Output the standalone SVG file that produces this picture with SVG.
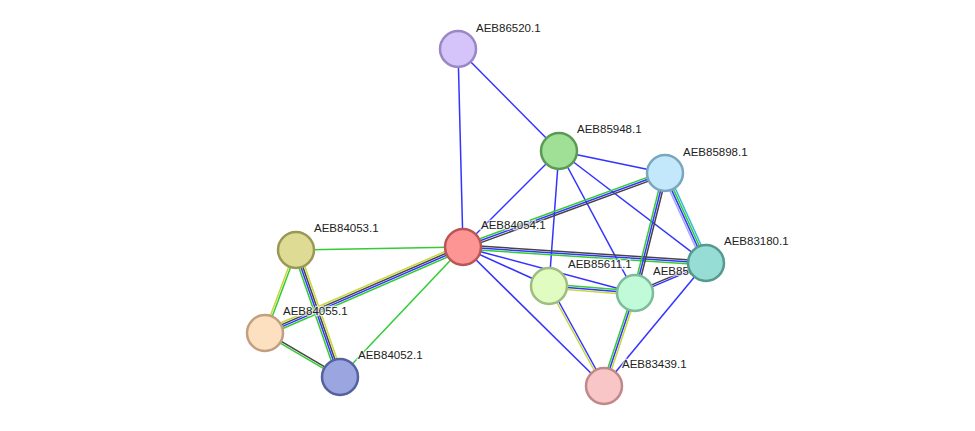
<svg xmlns="http://www.w3.org/2000/svg" width="975" height="431" viewBox="0 0 975 431">
<style>
line{stroke-width:1.5}
.b{stroke:#3333ff}.g{stroke:#33cc33}.k{stroke:#444}.y{stroke:#c8d83a}.l{stroke:#a0a8ff}.c{stroke:#33bbdd}
circle{stroke-width:2.5}
text{font-family:"Liberation Sans",Arial,sans-serif;font-size:11.5px;fill:#222;stroke:#fff;stroke-width:2.5px;paint-order:stroke;stroke-opacity:0.7}
</style>
<rect width="975" height="431" fill="#fff"/>
<g id="connectors">
<line class="b" x1="458" y1="49" x2="463" y2="247"/>
<line class="b" x1="458" y1="49" x2="559" y2="151"/>
<line class="b" x1="559" y1="151" x2="463" y2="247"/>
<line class="b" x1="559" y1="151" x2="665" y2="173"/>
<line class="b" x1="559" y1="151" x2="706" y2="263"/>
<line class="b" x1="559" y1="151" x2="549" y2="286"/>
<line class="b" x1="559" y1="151" x2="635" y2="293"/>
<line class="g" x1="462.3" y1="245.1" x2="664.3" y2="171.1"/>
<line class="b" x1="463" y1="247" x2="665" y2="173"/>
<line class="k" x1="463.7" y1="248.9" x2="665.7" y2="174.9"/>
<line class="k" x1="463.1" y1="245" x2="706.1" y2="261"/>
<line class="b" x1="463" y1="247" x2="706" y2="263"/>
<line class="g" x1="462.9" y1="249" x2="705.9" y2="265"/>
<line class="b" x1="463" y1="247" x2="549" y2="286"/>
<line class="b" x1="463" y1="247" x2="635" y2="293"/>
<line class="b" x1="463" y1="247" x2="604" y2="386"/>
<line class="g" x1="463" y1="247" x2="296" y2="250"/>
<line class="y" x1="461.8" y1="244.3" x2="263.8" y2="330.3"/>
<line class="k" x1="462.6" y1="246.1" x2="264.6" y2="332.1"/>
<line class="b" x1="463.4" y1="247.9" x2="265.4" y2="333.9"/>
<line class="g" x1="464.2" y1="249.8" x2="266.2" y2="335.8"/>
<line class="g" x1="463" y1="247" x2="340" y2="377"/>
<line class="g" x1="663.1" y1="172.5" x2="633.1" y2="292.5"/>
<line class="b" x1="665" y1="173" x2="635" y2="293"/>
<line class="k" x1="666.9" y1="173.5" x2="636.9" y2="293.5"/>
<line class="l" x1="662.3" y1="174.2" x2="703.3" y2="264.2"/>
<line class="b" x1="664.1" y1="173.4" x2="705.1" y2="263.4"/>
<line class="g" x1="665.9" y1="172.6" x2="706.9" y2="262.6"/>
<line class="c" x1="667.7" y1="171.8" x2="708.7" y2="261.8"/>
<line class="g" x1="549.2" y1="284" x2="635.2" y2="291"/>
<line class="b" x1="549" y1="286" x2="635" y2="293"/>
<line class="y" x1="548.8" y1="288" x2="634.8" y2="295"/>
<line class="k" x1="634.6" y1="292.1" x2="705.6" y2="262.1"/>
<line class="b" x1="635.4" y1="293.9" x2="706.4" y2="263.9"/>
<line class="y" x1="548.1" y1="286.5" x2="603.1" y2="386.5"/>
<line class="b" x1="549.9" y1="285.5" x2="604.9" y2="385.5"/>
<line class="g" x1="633.1" y1="292.4" x2="602.1" y2="385.4"/>
<line class="b" x1="635" y1="293" x2="604" y2="386"/>
<line class="y" x1="636.9" y1="293.6" x2="605.9" y2="386.6"/>
<line class="b" x1="706" y1="263" x2="604" y2="386"/>
<line class="y" x1="295.1" y1="249.6" x2="264.1" y2="332.6"/>
<line class="g" x1="296.9" y1="250.4" x2="265.9" y2="333.4"/>
<line class="g" x1="293.2" y1="251" x2="337.2" y2="378"/>
<line class="b" x1="295.1" y1="250.3" x2="339.1" y2="377.3"/>
<line class="k" x1="296.9" y1="249.7" x2="340.9" y2="376.7"/>
<line class="y" x1="298.8" y1="249" x2="342.8" y2="376"/>
<line class="k" x1="265.5" y1="332.1" x2="340.5" y2="376.1"/>
<line class="g" x1="264.5" y1="333.9" x2="339.5" y2="377.9"/>
</g>
<g id="AEB86520.1"><circle cx="458" cy="49" r="18" fill="#d4c4f9" stroke="#9a87c4"/><text x="476" y="32">AEB86520.1</text></g>
<g id="AEB85948.1"><circle cx="559" cy="151" r="18" fill="#a0e096" stroke="#5a9a55"/><text x="577" y="133">AEB85948.1</text></g>
<g id="AEB85898.1"><circle cx="665" cy="173" r="18" fill="#c3e8fb" stroke="#7ba6c0"/><text x="683" y="156">AEB85898.1</text></g>
<g id="AEB84054.1"><circle cx="463" cy="247" r="18" fill="#fd9595" stroke="#bb5555"/><text x="481" y="229">AEB84054.1</text></g>
<g id="AEB85611.1"><circle cx="549" cy="286" r="18" fill="#e0fcc0" stroke="#9fbd80"/><text x="568" y="268">AEB85611.1</text></g>
<g id="AEB85612.1"><circle cx="635" cy="293" r="18" fill="#c0fad9" stroke="#7cbc98"/><text x="653" y="275">AEB85612.1</text></g>
<g id="AEB83180.1"><circle cx="706" cy="263" r="18" fill="#96ddd5" stroke="#55998f"/><text x="724" y="245">AEB83180.1</text></g>
<g id="AEB83439.1"><circle cx="604" cy="386" r="18" fill="#f8c6c6" stroke="#c08888"/><text x="622" y="368">AEB83439.1</text></g>
<g id="AEB84053.1"><circle cx="296" cy="250" r="18" fill="#dedb94" stroke="#9a9855"/><text x="314" y="232">AEB84053.1</text></g>
<g id="AEB84055.1"><circle cx="265" cy="333" r="18" fill="#fde0c0" stroke="#c0a080"/><text x="283" y="315">AEB84055.1</text></g>
<g id="AEB84052.1"><circle cx="340" cy="377" r="18" fill="#9ba6e0" stroke="#5562a0"/><text x="358" y="359">AEB84052.1</text></g>
</svg>
